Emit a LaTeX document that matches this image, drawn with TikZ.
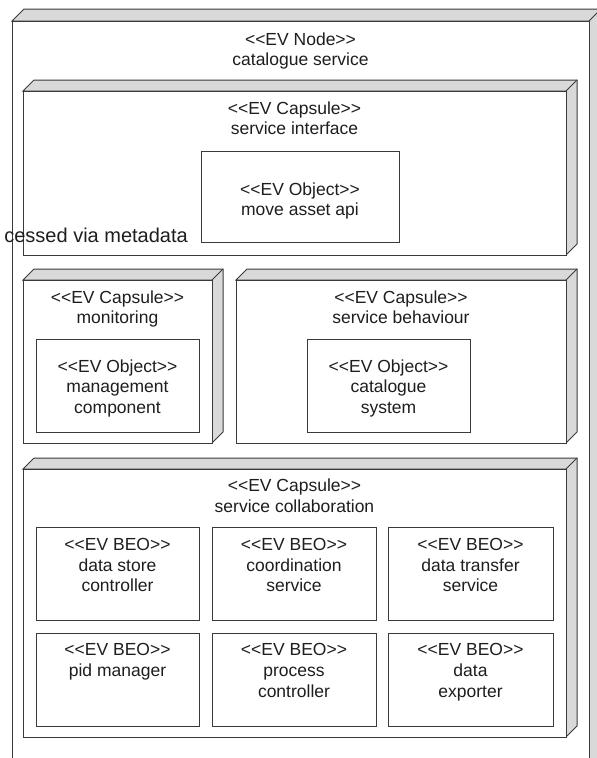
\documentclass[tikz,border=0pt]{standalone}
\usepackage{fontspec}
\setmainfont{Liberation Sans}[Ligatures=TeXOff]
\definecolor{linec}{HTML}{3A3A3A}
\definecolor{facec}{HTML}{D9D9D9}
\definecolor{textc}{HTML}{1E1E1E}
\newcommand\evbox[6]{%
  \filldraw[face] (#2,#3) -- (#2+#6,#3-#6) -- (#4+#6,#3-#6) -- (#4+#6,#5-#6) -- (#4,#5) -- (#4,#3) -- cycle;
  \draw[edge] (#4,#3) -- (#4+#6,#3-#6);
  \node[front, minimum width=#4-#2, minimum height=#5-#3] (#1) at (#2,#3) {};
}
\newcommand\evobj[5]{%
  \node[front, minimum width=#4-#2, minimum height=#5-#3] (#1) at (#2,#3) {};
}
\begin{document}
\begin{tikzpicture}[x=1pt,y=-1pt,
  edge/.style={draw=linec, line width=1pt},
  face/.style={fill=facec, draw=linec, line width=1pt, line join=miter},
  front/.style={draw=linec, fill=white, line width=1pt, inner sep=0pt, outer sep=0pt, anchor=north west},
  txt/.style={font=\fontsize{17.5}{20.7}\selectfont, text=textc, align=center, inner sep=0pt, anchor=north},
]
\path[use as bounding box, clip] (0,0) rectangle (597,758);
\fill[white] (0,0) rectangle (597,758);

% outer node
\evbox{outer}{12}{21}{589}{790}{12}
\node[txt] (outer-t) at (300.5,32.2) {<<EV Node>>\\catalogue service};

% service interface
\evbox{si}{23}{91}{566}{255}{11}
\node[txt] (si-t) at (294.5,101.2) {<<EV Capsule>>\\service interface};
\evobj{move}{201}{151}{399}{242}
\node[txt] (move-t) at (300,182.2) {<<EV Object>>\\move asset api};
\node[font=\fontsize{20}{22}\selectfont, text=textc, inner sep=0pt, anchor=base east] (meta) at (188,242) {cessed via metadata};

% monitoring
\evbox{mon}{23}{280}{212}{443}{11}
\node[txt] (mon-t) at (117.5,290.2) {<<EV Capsule>>\\monitoring};
\evobj{mgmt}{36}{339}{199}{432}
\node[txt] (mgmt-t) at (117.5,359.2) {<<EV Object>>\\management\\component};

% service behaviour
\evbox{beh}{236}{280}{566}{443}{11}
\node[txt] (beh-t) at (401,290.2) {<<EV Capsule>>\\service behaviour};
\evobj{cat}{307}{339}{470}{432}
\node[txt] (cat-t) at (388.5,359.2) {<<EV Object>>\\catalogue\\system};

% service collaboration
\evbox{col}{23}{469}{566}{737}{11}
\node[txt] (col-t) at (294.5,479) {<<EV Capsule>>\\service collaboration};
\evobj{b1}{36}{527}{199}{620}
\evobj{b2}{212}{527}{376}{620}
\evobj{b3}{388}{527}{553}{620}
\evobj{b4}{36}{633}{199}{726}
\evobj{b5}{212}{633}{376}{726}
\evobj{b6}{388}{633}{553}{726}
\node[txt] (b1-t) at (117.5,538) {<<EV BEO>>\\data store\\controller};
\node[txt] (b2-t) at (294,538) {<<EV BEO>>\\coordination\\service};
\node[txt] (b3-t) at (470.5,538) {<<EV BEO>>\\data transfer\\service};
\node[txt] (b4-t) at (117.5,643.2) {<<EV BEO>>\\pid manager};
\node[txt] (b5-t) at (294,643.2) {<<EV BEO>>\\process\\controller};
\node[txt] (b6-t) at (470.5,643.2) {<<EV BEO>>\\data\\exporter};
\end{tikzpicture}
\end{document}
